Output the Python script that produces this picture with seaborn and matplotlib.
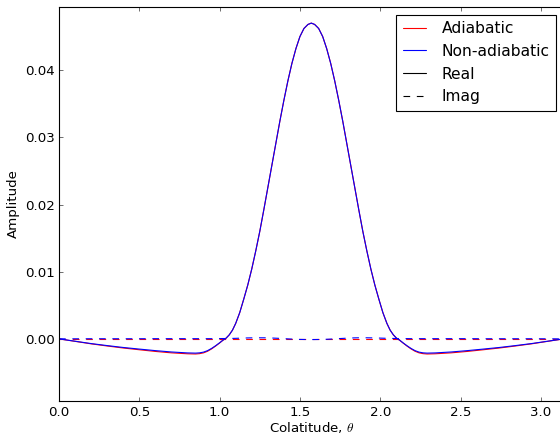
import numpy as np
import pandas as pd
import matplotlib
matplotlib.use("Agg")
import matplotlib.pyplot as plt
from matplotlib.lines import Line2D
import seaborn as sns

# ---- data (left half up to the equator, symmetric) ----
theta_half = [0.0, 0.1, 0.2, 0.3, 0.4, 0.5, 0.6, 0.7, 0.8, 0.85, 0.875, 0.9,
              0.925, 0.95, 0.975, 1.0, 1.02, 1.04, 1.06, 1.08, 1.10, 1.125,
              1.15, 1.175, 1.20, 1.225, 1.25, 1.275, 1.30, 1.325, 1.35, 1.375,
              1.40, 1.425, 1.45, 1.475, 1.50, 1.525, 1.55, 1.5708]
nonadiab_real_half = [0.0, -0.00035, -0.0007, -0.00100, -0.00128, -0.00152,
                      -0.00175, -0.00195, -0.00209, -0.00212, -0.00208, -0.00197,
                      -0.00175, -0.00142, -0.00102, -0.00058, -0.00020, 0.0001,
                      0.0006, 0.0013, 0.0023, 0.0039, 0.0059, 0.0080, 0.0104,
                      0.0131, 0.0160, 0.0192, 0.0225, 0.0258, 0.0291, 0.0324,
                      0.0355, 0.0384, 0.0410, 0.0432, 0.0450, 0.0462, 0.0468,
                      0.0470]
adiab_real_half = [0.0, -0.00037, -0.00074, -0.00106, -0.00136, -0.00162,
                   -0.00187, -0.00208, -0.00222, -0.00225, -0.00220, -0.00208,
                   -0.00184, -0.00149, -0.00107, -0.00061, -0.00022, 0.0001,
                   0.0006, 0.0013, 0.0023, 0.0039, 0.0059, 0.0080, 0.0104,
                   0.0131, 0.0160, 0.0192, 0.0225, 0.0258, 0.0291, 0.0324,
                   0.0355, 0.0384, 0.0410, 0.0432, 0.0450, 0.0462, 0.0468,
                   0.0470]
nonadiab_imag_half = [0.0, 0.00001, 0.00002, 0.00002, 0.00002, 0.00002,
                      0.00003, 0.00003, 0.00003, 0.00003, 0.00003, 0.00003,
                      0.00003, 0.00003, 0.00004, 0.00004, 0.00005, 0.00005,
                      0.00006, 0.00007, 0.00008, 0.00010, 0.00012, 0.00014,
                      0.00015, 0.00016, 0.00016, 0.00016, 0.00015, 0.00013,
                      0.00010, 0.00007, 0.00004, 0.00000, -0.00003, -0.00006,
                      -0.00008, -0.00009, -0.00010, -0.00010]
adiab_imag_half = [0.0] * len(theta_half)

# mirror about the equator (theta -> pi - theta)
theta = theta_half + [np.pi - t for t in theta_half[-2::-1]]
nonadiab_real = nonadiab_real_half + nonadiab_real_half[-2::-1]
adiab_real = adiab_real_half + adiab_real_half[-2::-1]
nonadiab_imag = nonadiab_imag_half + nonadiab_imag_half[-2::-1]
adiab_imag = adiab_imag_half + adiab_imag_half[-2::-1]

x_ticks = [0.0, 0.5, 1.0, 1.5, 2.0, 2.5, 3.0]
y_ticks = [0.00, 0.01, 0.02, 0.03, 0.04]

# ---- style ----
sns.set_style("ticks")
FS = 12
LFS = 14
plt.rcParams.update({
    "font.family": ["DejaVu Sans"],
    "font.size": FS,
    "mathtext.fontset": "cm",
    "xtick.direction": "in",
    "ytick.direction": "in",
    "xtick.top": True,
    "ytick.right": True,
    "xtick.major.size": 4,
    "ytick.major.size": 4,
    "xtick.major.width": 0.5,
    "ytick.major.width": 0.5,
    "axes.linewidth": 1.0,
    "axes.edgecolor": "black",
    "xtick.color": "black",
    "ytick.color": "black",
    "axes.labelcolor": "black",
    "text.color": "black",
    "xtick.labelsize": FS,
    "ytick.labelsize": FS,
    "axes.labelsize": FS,
    "lines.linewidth": 1.0,
    "xtick.major.pad": 5,
    "ytick.major.pad": 4,
})

fig = plt.figure(figsize=(7.0, 5.45), dpi=80)
ax = fig.add_axes([0.1054, 0.081, 0.9010, 0.903])

df = pd.DataFrame({
    "theta": theta,
    "ad_re": adiab_real,
    "ad_im": adiab_imag,
    "na_re": nonadiab_real,
    "na_im": nonadiab_imag,
})

dash = (6, 6)
sns.lineplot(data=df, x="theta", y="ad_re", color="red", lw=1.0, ax=ax)
sns.lineplot(data=df, x="theta", y="ad_im", color="red", lw=1.0, ax=ax).lines[-1].set_dashes(dash)
sns.lineplot(data=df, x="theta", y="na_re", color="blue", lw=1.0, ax=ax)
sns.lineplot(data=df, x="theta", y="na_im", color="blue", lw=1.0, ax=ax).lines[-1].set_dashes(dash)

ax.set_xlim(0, np.pi)
ax.set_ylim(-0.0092, 0.0494)
ax.set_xticks(x_ticks)
ax.set_xticklabels([f"{v:.1f}" for v in x_ticks])
ax.set_yticks(y_ticks)
ax.set_yticklabels([f"{v:.2f}" for v in y_ticks])
ax.set_xlabel(r"Colatitude, $\theta$", labelpad=0.5)
ax.set_ylabel("Amplitude", labelpad=4)
for s in ax.spines.values():
    s.set_visible(True)
    s.set_linewidth(1.0)

handles = [
    Line2D([], [], color="red", lw=1.0),
    Line2D([], [], color="blue", lw=1.0),
    Line2D([], [], color="black", lw=1.0),
    Line2D([], [], color="black", lw=1.0, dashes=dash),
]
labels = ["Adiabatic", "Non-adiabatic", "Real", "Imag"]
leg = ax.legend(handles, labels, loc="upper right", fancybox=False,
                framealpha=1.0, edgecolor="black", fontsize=LFS,
                borderaxespad=0.5, handlelength=1.5, handletextpad=1.0,
                borderpad=0.4, labelspacing=0.5)
leg.get_frame().set_linewidth(1.0)

fig.savefig("out.png", dpi=80)
